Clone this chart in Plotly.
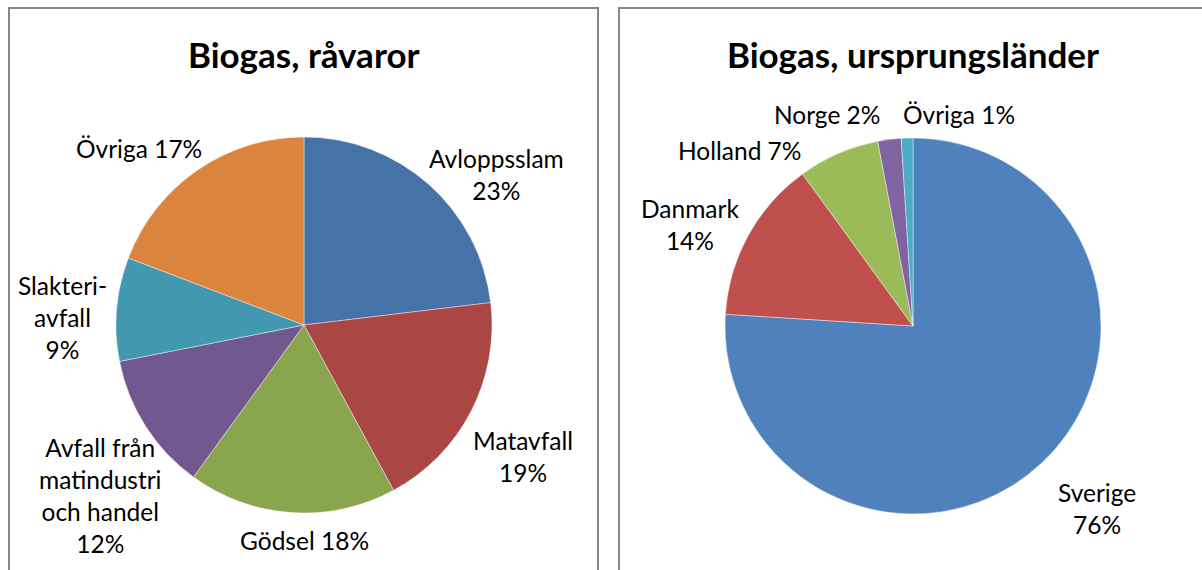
import plotly.graph_objects as go

W, H = 1202, 570

# Left pie: raw materials (shares), label percentages as printed
raw_labels = ["Avloppsslam", "Matavfall", "Gödsel", "Avfall från matindustri och handel", "Slakteriavfall", "Övriga"]
raw_values = [23.1, 19.0, 17.9, 11.9, 8.9, 19.2]
raw_pct_text = ["23%", "19%", "18%", "12%", "9%", "17%"]
raw_colors = ["#4572A7", "#AA4643", "#89A54E", "#71588F", "#4198AF", "#DB843D"]

# Right pie: countries of origin
cty_labels = ["Sverige", "Danmark", "Holland", "Norge", "Övriga"]
cty_values = [76, 14, 7, 2, 1]
cty_colors = ["#4F81BD", "#C0504D", "#9BBB59", "#8064A2", "#4BACC6"]

FONT = "Lato, Carlito, Calibri, sans-serif"
LBL = 24.5
TTL = 35


def px(x):
    return x / W


def py(y):
    return 1 - y / H


def dom(cx, cy, r):
    return dict(x=[px(cx - r), px(cx + r)], y=[py(cy + r), py(cy - r)])


fig = go.Figure()
fig.add_trace(go.Pie(
    labels=raw_labels, values=raw_values, sort=False, direction="clockwise",
    rotation=0, marker=dict(colors=raw_colors, line=dict(color="rgba(255,255,255,0.6)", width=0.7)),
    textinfo="none", hoverinfo="label+percent", showlegend=False,
    domain=dom(304, 325, 188),
))
fig.add_trace(go.Pie(
    labels=cty_labels, values=cty_values, sort=False, direction="clockwise",
    rotation=0, marker=dict(colors=cty_colors, line=dict(color="rgba(255,255,255,0.6)", width=0.7)),
    textinfo="none", hoverinfo="label+percent", showlegend=False,
    domain=dom(913, 326, 188),
))

ann = []


def add(text, x, y, size=LBL, bold=False):
    ann.append(dict(text=("<b>%s</b>" % text) if bold else text, x=px(x), y=py(y),
                    xref="paper", yref="paper", showarrow=False,
                    xanchor="center", yanchor="middle",
                    font=dict(family=FONT, size=size, color="#000000")))


add("Biogas, råvaror", 304, 54, size=TTL, bold=True)
add("Biogas, ursprungsländer", 913, 54, size=TTL, bold=True)

# left labels
add("%s<br>%s" % (raw_labels[0], raw_pct_text[0]), 496, 174)
add("%s<br>%s" % (raw_labels[1], raw_pct_text[1]), 523, 456)
add("%s %s" % (raw_labels[2], raw_pct_text[2]), 304, 540)
add("Avfall från<br>matindustri<br>och handel<br>%s" % raw_pct_text[3], 100, 495)
add("Slakteri-<br>avfall<br>%s" % raw_pct_text[4], 62, 317)
add("%s %s" % (raw_labels[5], raw_pct_text[5]), 139, 149)

# right labels
add("%s<br>%d%%" % (cty_labels[0], cty_values[0]), 1097, 508)
add("%s<br>%d%%" % (cty_labels[1], cty_values[1]), 690, 224)
add("%s %d%%" % (cty_labels[2], cty_values[2]), 739, 151)
add("%s %d%%" % (cty_labels[3], cty_values[3]), 827, 115)
add("%s %d%%" % (cty_labels[4], cty_values[4]), 959, 115)

shapes = [
    dict(type="rect", xref="paper", yref="paper", x0=px(9), x1=px(598), y0=py(575), y1=py(8),
         line=dict(color="#878787", width=2), fillcolor="rgba(0,0,0,0)"),
    dict(type="rect", xref="paper", yref="paper", x0=px(619), x1=px(1210), y0=py(575), y1=py(8),
         line=dict(color="#878787", width=2), fillcolor="rgba(0,0,0,0)"),
]

fig.update_layout(
    width=W, height=H, margin=dict(l=0, r=0, t=0, b=0),
    paper_bgcolor="white", plot_bgcolor="white",
    annotations=ann, shapes=shapes,
    font=dict(family=FONT),
)

fig.write_html("out.html", config={"displayModeBar": False},
               post_script="document.body.style.margin='0';document.body.style.overflow='hidden';")
